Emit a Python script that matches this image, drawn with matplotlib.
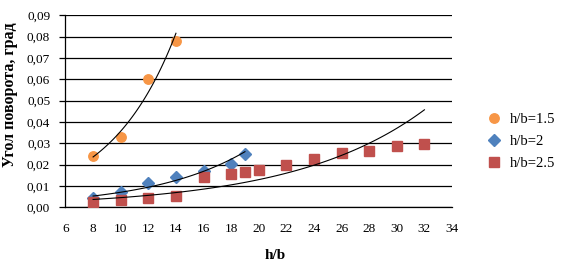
import numpy as np
import matplotlib
matplotlib.use("Agg")
import matplotlib.pyplot as plt
from matplotlib.ticker import FuncFormatter

plt.rcParams['font.family'] = ['Liberation Serif', 'DejaVu Serif']

x15 = [8, 10, 12, 14]
y15 = [0.024, 0.033, 0.060, 0.078]

x20 = [8, 10, 12, 14, 16, 18, 19]
y20 = [0.0044, 0.0073, 0.0112, 0.0142, 0.0172, 0.0201, 0.025]

x25 = [8, 10, 12, 14, 16, 18, 19, 20, 22, 24, 26, 28, 30, 32]
y25 = [0.0026, 0.0034, 0.0044, 0.0053, 0.0141, 0.0158, 0.0166, 0.0176,
       0.0198, 0.0225, 0.0253, 0.0265, 0.0289, 0.0298]

labels = ["h/b=1.5", "h/b=2", "h/b=2.5"]
colors = ["#F79646", "#4F81BD", "#C0504D"]
markers = ["o", "D", "s"]
msizes = [6.8, 6.2, 7.2]

fig = plt.figure(figsize=(5.74, 2.74), dpi=100)
ax = fig.add_axes([0.1141, 0.2434, 0.6734, 0.7008])

series = [(x15, y15), (x20, y20), (x25, y25)]
handles = []
for (xs, ys), lab, c, m, ms in zip(series, labels, colors, markers, msizes):
    h, = ax.plot(xs, ys, linestyle='none', marker=m, color=c, markersize=ms,
                 label=lab, zorder=3)
    handles.append(h)
    # exponential trendline
    b, a = np.polyfit(xs, np.log(ys), 1)
    xt = np.linspace(min(xs), max(xs), 100)
    ax.plot(xt, np.exp(a + b * xt), color='black', lw=0.8, zorder=4)

ax.set_xlim(6, 34)
ax.set_ylim(0, 0.09)
ax.set_xticks(np.arange(6, 35, 2))
ax.set_yticks(np.arange(0, 0.0901, 0.01))
ax.yaxis.set_major_formatter(FuncFormatter(lambda v, p: f"{v:.2f}".replace('.', ',')))
ax.grid(axis='y', color='black', lw=0.9)
ax.set_axisbelow(True)
for s in ['top', 'right']:
    ax.spines[s].set_visible(False)
ax.spines['left'].set_linewidth(0.9)
ax.spines['bottom'].set_linewidth(0.9)
ax.tick_params(axis='x', length=0, labelsize=9.5, pad=11)
ax.tick_params(axis='y', length=4, width=0.9, labelsize=9.5, pad=7)

ax.set_xlabel("h/b", fontsize=11, fontweight='bold')
ax.set_ylabel("Угол поворота, град", fontsize=11.5, fontweight='bold')
ax.yaxis.set_label_coords(-0.122, 0.5875)
ax.xaxis.set_label_coords(0.542, -0.215)

fig.legend(handles=handles, labels=labels, loc='center left',
           bbox_to_anchor=(0.828, 0.485), frameon=False, fontsize=10.5,
           handlelength=0.8, handletextpad=0.7, labelspacing=0.6)

fig.savefig("out.png", dpi=100)
